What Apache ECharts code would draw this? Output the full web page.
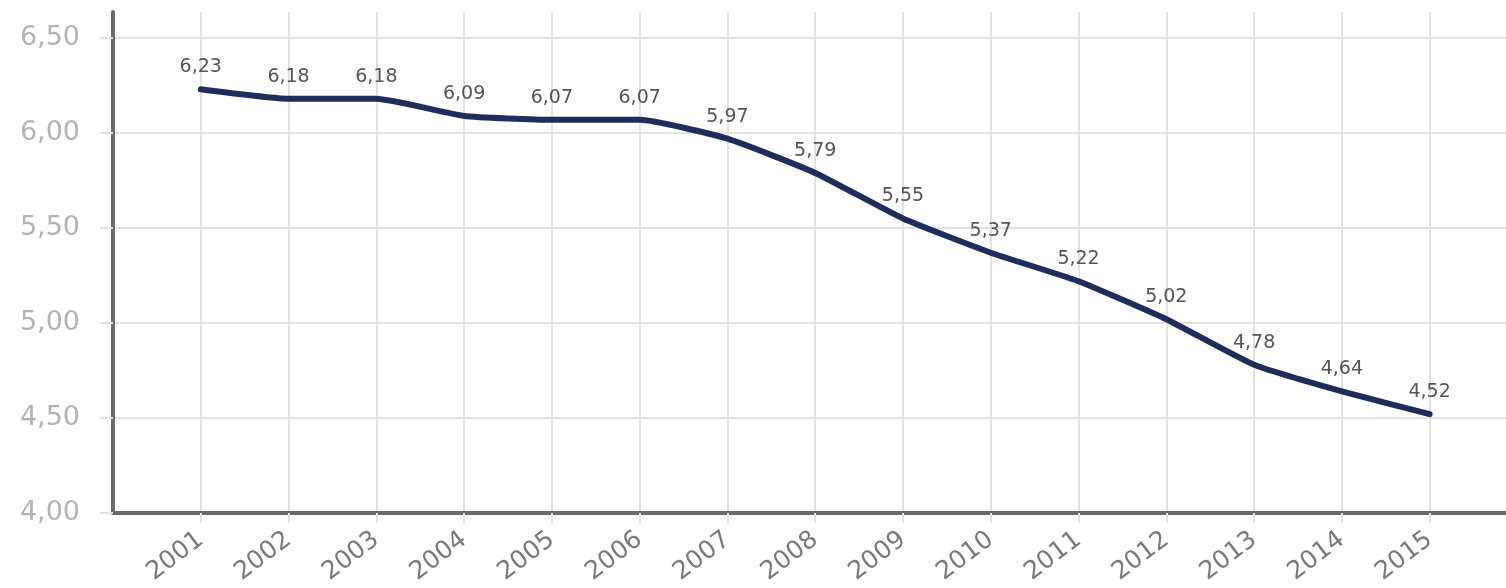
<!DOCTYPE html>
<html>
<head>
<meta charset="utf-8">
<script src="https://cdn.jsdelivr.net/npm/echarts@6/dist/echarts.min.js"></script>
<style>
  html, body { margin: 0; padding: 0; background: #ffffff; }
  #chart { width: 1506px; height: 588px; }
</style>
</head>
<body>
<div id="chart"></div>
<script>
// Annual values, 2001–2015
const years = [2001, 2002, 2003, 2004, 2005, 2006, 2007, 2008, 2009, 2010, 2011, 2012, 2013, 2014, 2015];
const values = [6.23, 6.18, 6.18, 6.09, 6.07, 6.07, 5.97, 5.79, 5.55, 5.37, 5.22, 5.02, 4.78, 4.64, 4.52];
const yTicks = [4.0, 4.5, 5.0, 5.5, 6.0, 6.5];

const fmt = v => v.toFixed(2).replace('.', ',');
const points = years.map((y, i) => [y, values[i]]);
const FONT = 'DejaVu Sans, Liberation Sans, sans-serif';

const chart = echarts.init(document.getElementById('chart'), null, { renderer: 'canvas' });
chart.setOption({
  animation: false,
  backgroundColor: '#ffffff',
  grid: { left: 113, right: 0, top: 12, bottom: 75 },
  xAxis: {
    type: 'value',
    min: 2000,
    max: 2015.87,
    interval: 1,
    axisLine: { show: true, onZero: false, lineStyle: { color: '#6b6b6b', width: 4 } },
    axisTick: { show: true, length: 10, lineStyle: { color: '#e2e2e2', width: 2 } },
    splitLine: { show: true, showMinLine: false, showMaxLine: false, lineStyle: { color: '#e2e2e2', width: 2 } },
    axisLabel: {
      rotate: 37,
      margin: 24,
      color: '#7a7a7a',
      fontSize: 25,
      fontFamily: FONT,
      showMinLabel: false,
      showMaxLabel: false,
      formatter: v => (years.includes(v) ? String(v) : '')
    }
  },
  yAxis: {
    type: 'value',
    min: yTicks[0],
    max: 6.637,
    interval: 0.5,
    axisLine: { show: true, lineStyle: { color: '#6b6b6b', width: 4 } },
    axisTick: { show: true, length: 13, lineStyle: { color: '#e2e2e2', width: 2 } },
    splitLine: { show: true, showMaxLine: false, lineStyle: { color: '#e2e2e2', width: 2 } },
    axisLabel: {
      margin: 33,
      color: '#b3b3b3',
      fontSize: 27,
      fontFamily: FONT,
      showMaxLabel: false,
      formatter: v => (yTicks.includes(+v.toFixed(2)) ? fmt(v) : '')
    }
  },
  series: [{
    type: 'line',
    data: points,
    smooth: 0.15,
    symbol: 'circle',
    symbolSize: 1,
    showSymbol: true,
    itemStyle: { color: 'rgba(0,0,0,0)' },
    lineStyle: { color: '#1f2d5c', width: 6, cap: 'round', join: 'round' },
    label: {
      show: true,
      position: 'top',
      distance: 12,
      color: '#555555',
      fontSize: 19,
      fontFamily: FONT,
      formatter: p => fmt(p.value[1])
    }
  }]
});
</script>
</body>
</html>
